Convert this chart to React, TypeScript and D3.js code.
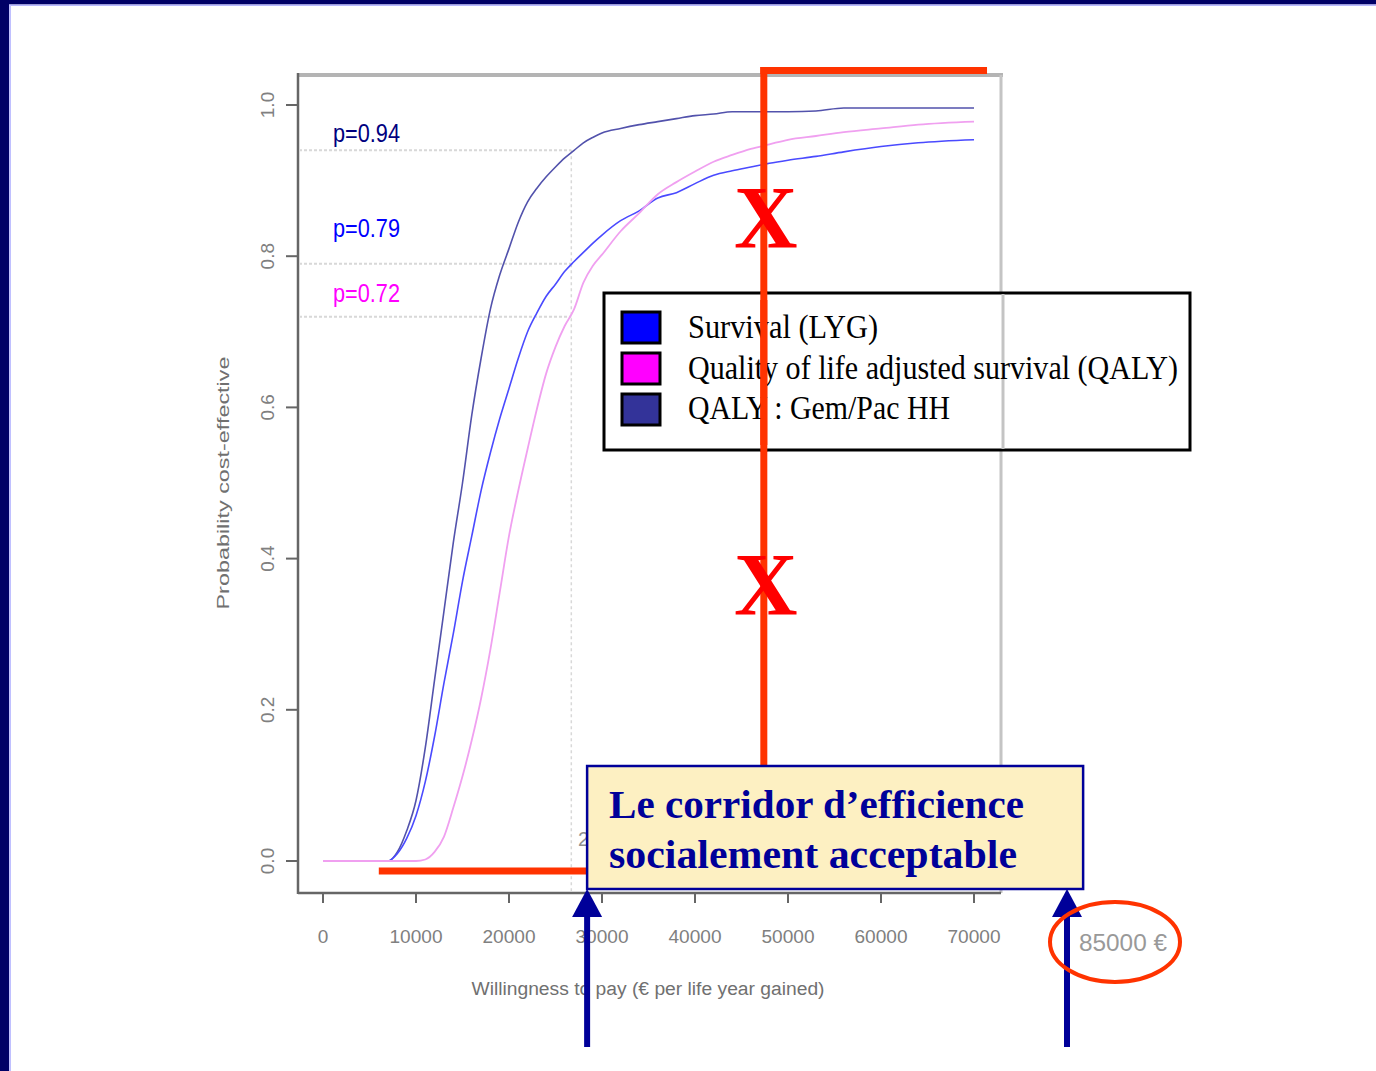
import React from "react";
import * as d3 from "d3";

const wtp = [0, 5, 7, 8, 9, 10, 11, 12, 13, 14, 15, 16, 17, 18, 19, 20, 21, 22, 23, 24, 25, 26, 27, 28, 29, 30, 32, 34, 36, 38, 40, 42, 44, 46, 48, 50, 53, 56, 60, 64, 70].map((d) => d * 1000);

const qalyHH = [0, 0, 0, 0.012, 0.04, 0.08, 0.15, 0.24, 0.33, 0.42, 0.5, 0.59, 0.665, 0.73, 0.775, 0.81, 0.845, 0.872, 0.89, 0.905, 0.918, 0.93, 0.94, 0.95, 0.957, 0.963, 0.969, 0.974, 0.978, 0.982, 0.986, 0.988, 0.991, 0.991, 0.991, 0.991, 0.992, 0.996, 0.996, 0.996, 0.996];
const survival = [0, 0, 0, 0.01, 0.03, 0.06, 0.105, 0.165, 0.235, 0.3, 0.37, 0.43, 0.49, 0.54, 0.585, 0.625, 0.665, 0.7, 0.725, 0.747, 0.763, 0.78, 0.793, 0.805, 0.817, 0.828, 0.847, 0.86, 0.877, 0.884, 0.896, 0.907, 0.913, 0.918, 0.923, 0.927, 0.932, 0.938, 0.945, 0.95, 0.954];
const qaly = [0, 0, 0, 0, 0, 0, 0.002, 0.012, 0.032, 0.07, 0.112, 0.16, 0.215, 0.28, 0.355, 0.43, 0.49, 0.545, 0.598, 0.645, 0.68, 0.708, 0.73, 0.765, 0.787, 0.802, 0.833, 0.857, 0.882, 0.898, 0.912, 0.925, 0.934, 0.942, 0.948, 0.954, 0.959, 0.964, 0.969, 0.974, 0.978];

const xTicks = [0, 10000, 20000, 30000, 40000, 50000, 60000, 70000];
const yTicks = [0, 0.2, 0.4, 0.6, 0.8, 1.0];

const threshold = 26700;
const pLabels = [
  { text: "p=0.94", value: 0.94, color: "#000080" },
  { text: "p=0.79", value: 0.79, color: "#0000ff" },
  { text: "p=0.72", value: 0.72, color: "#ff00ff" },
];

const legendItems = [
  { label: "Survival (LYG)", color: "#0000ff", len: 190 },
  { label: "Quality of life adjusted survival (QALY)", color: "#ff00ff", len: 490 },
  { label: "QALY : Gem/Pac HH", color: "#333399", len: 262 },
];

const redLineWtp = 47400;
const redTopEnd = 71400;
const redBottomStart = 6000;
const arrowWtp = [28400, 80000];

export default function App() {
  const x = d3.scaleLinear().domain([0, 70000]).range([323, 974]);
  const y = d3.scaleLinear().domain([0, 1]).range([861, 105]);
  const line = (vals: number[]) =>
    d3
      .line<number>()
      .x((_, i) => x(wtp[i]))
      .y((d) => y(d))
      .curve(d3.curveMonotoneX)(vals) || "";

  const plotL = 298, plotR = 1001, plotT = 75, plotB = 893;
  const sans = "'Liberation Sans', Arial, sans-serif";
  const serif = "'Liberation Serif', 'Times New Roman', serif";

  return (
    <svg width={1376} height={1071} style={{ position: "absolute", left: 0, top: 0, display: "block", background: "#fff" }}>
      {/* slide frame */}
      <rect x={0} y={0} width={1376} height={1071} fill="#fff" />
      <rect x={0} y={0} width={1376} height={4.5} fill="#000066" />
      <rect x={0} y={4.5} width={1376} height={1.5} fill="#b8b8ff" />
      <rect x={0} y={0} width={9} height={1071} fill="#000066" />
      <rect x={9} y={5} width={2} height={1066} fill="#c0c0ff" />

      {/* plot frame */}
      <line x1={plotL} x2={plotR + 2} y1={plotT} y2={plotT} stroke="#b4b4b4" strokeWidth={4} />
      <line x1={plotR} x2={plotR} y1={plotT} y2={plotB} stroke="#c4c4c4" strokeWidth={3} />
      <line x1={plotL} x2={plotL} y1={plotT - 2} y2={plotB + 1} stroke="#666" strokeWidth={2.5} />
      <line x1={plotL} x2={plotR} y1={plotB} y2={plotB} stroke="#666" strokeWidth={2.5} />

      {/* y ticks */}
      {yTicks.map((t) => (
        <g key={t}>
          <line x1={286} x2={plotL} y1={y(t)} y2={y(t)} stroke="#666" strokeWidth={2} />
          <text
            transform={`translate(274,${y(t)}) rotate(-90)`}
            textAnchor="middle"
            fontFamily={sans}
            fontSize={19}
            fill="#808080"
          >
            {t.toFixed(1)}
          </text>
        </g>
      ))}
      {/* x ticks */}
      {xTicks.map((t) => (
        <g key={t}>
          <line x1={x(t)} x2={x(t)} y1={plotB} y2={plotB + 10} stroke="#666" strokeWidth={2} />
          <text
            x={x(t)}
            y={943}
            textAnchor="middle"
            fontFamily={sans}
            fontSize={19}
            fill="#808080"
            {...(t > 0 ? { textLength: 53, lengthAdjust: "spacingAndGlyphs" } : {})}
          >
            {t}
          </text>
        </g>
      ))}

      <text
        transform={`translate(229,483) rotate(-90)`}
        textAnchor="middle"
        fontFamily={sans}
        fontSize={17}
        fill="#707070"
        textLength={253}
        lengthAdjust="spacingAndGlyphs"
      >
        Probability cost-effective
      </text>
      <text
        x={648}
        y={995}
        textAnchor="middle"
        fontFamily={sans}
        fontSize={18}
        fill="#707070"
        textLength={353}
        lengthAdjust="spacingAndGlyphs"
      >
        Willingness to pay (€ per life year gained)
      </text>

      {/* reference dotted lines */}
      {pLabels.map((p) => (
        <line key={p.text} x1={plotL + 1} x2={x(threshold)} y1={y(p.value)} y2={y(p.value)} stroke="#d8d8d8" strokeWidth={2} strokeDasharray="3,2" />
      ))}
      <line x1={x(threshold)} x2={x(threshold)} y1={y(0.94)} y2={plotB} stroke="#d8d8d8" strokeWidth={1.5} strokeDasharray="3,3" />

      {/* p labels */}
      {pLabels.map((p, i) => (
        <text
          key={p.text}
          x={333}
          y={[142, 237, 302][i]}
          fontFamily={sans}
          fontSize={26}
          fill={p.color}
          textLength={67}
          lengthAdjust="spacingAndGlyphs"
        >
          {p.text}
        </text>
      ))}

      {/* curves */}
      <path d={line(qalyHH)} fill="none" stroke="#5252ac" strokeWidth={1.6} />
      <path d={line(survival)} fill="none" stroke="#4a4aff" strokeWidth={1.6} />
      <path d={line(qaly)} fill="none" stroke="#f0a0f0" strokeWidth={1.8} />

      {/* gray partial label */}
      <text x={578} y={846} fontFamily={sans} fontSize={20} fill="#909090">2</text>

      {/* red annotation lines */}
      <line x1={x(redLineWtp)} x2={x(redLineWtp)} y1={67} y2={770} stroke="#ff3300" strokeWidth={7} />
      <line x1={x(redLineWtp) - 3.5} x2={x(redTopEnd)} y1={70.5} y2={70.5} stroke="#ff3300" strokeWidth={7} />
      <line x1={x(redBottomStart)} x2={x(arrowWtp[0])} y1={871} y2={871} stroke="#ff3300" strokeWidth={7} />

      {/* legend */}
      <rect x={604} y={293} width={586} height={157} fill="#fff" stroke="#000" strokeWidth={3} />
      <line x1={x(redLineWtp)} x2={x(redLineWtp)} y1={291} y2={452} stroke="#ff3300" strokeWidth={7} />
      <line x1={plotR + 2} x2={plotR + 2} y1={294} y2={449} stroke="#c4c4c4" strokeWidth={3} />
      {legendItems.map((it, i) => (
        <g key={it.label}>
          <rect x={622} y={312 + i * 41} width={38} height={31} fill={it.color} stroke="#000" strokeWidth={3} />
          <text
            x={688}
            y={338 + i * 40.5}
            fontFamily={serif}
            fontSize={34}
            fill="#000"
            textLength={it.len}
            lengthAdjust="spacingAndGlyphs"
          >
            {it.label}
          </text>
        </g>
      ))}
      <line x1={x(redLineWtp)} x2={x(redLineWtp)} y1={300} y2={445} stroke="#ff3300" strokeWidth={7} />

      {/* red X marks */}
      {[0.85, 0.365].map((v) => (
        <text
          key={v}
          x={x(redLineWtp) + 2}
          y={y(v) + 29}
          textAnchor="middle"
          fontFamily={serif}
          fontWeight="bold"
          fontSize={88}
          fill="#ff0000"
        >
          X
        </text>
      ))}

      {/* corridor box */}
      <rect x={x(arrowWtp[0])} y={766} width={496} height={123} fill="#fdf0c2" stroke="#000099" strokeWidth={2.5} />
      <text x={609} y={818} fontFamily={serif} fontWeight="bold" fontSize={40} fill="#000099" textLength={415} lengthAdjust="spacingAndGlyphs">
        Le corridor d’efficience
      </text>
      <text x={609} y={868} fontFamily={serif} fontWeight="bold" fontSize={40} fill="#000099" textLength={408} lengthAdjust="spacingAndGlyphs">
        socialement acceptable
      </text>

      {/* arrows */}
      {arrowWtp.map((w) => {
        const ax = x(w);
        return (
          <g key={w}>
            <line x1={ax} x2={ax} y1={912} y2={1047} stroke="#000099" strokeWidth={6} />
            <path d={`M${ax},889 L${ax - 15},917 L${ax + 15},917 Z`} fill="#000099" />
          </g>
        );
      })}

      {/* 85000 label */}
      <text x={1123} y={951} textAnchor="middle" fontFamily={sans} fontSize={23} fill="#999" textLength={88} lengthAdjust="spacingAndGlyphs">
        85000 €
      </text>
      <ellipse cx={1115} cy={942} rx={65} ry={40} fill="none" stroke="#ff3300" strokeWidth={4} />
    </svg>
  );
}
